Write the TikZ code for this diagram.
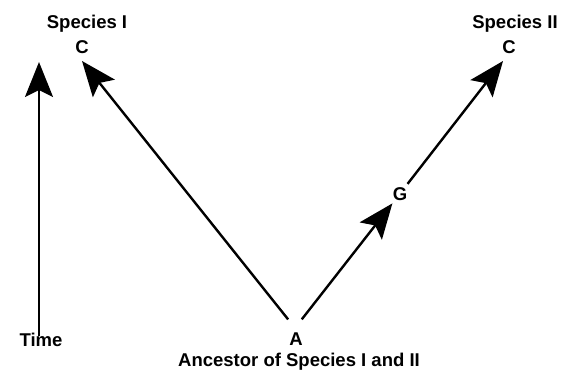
\documentclass[tikz,border=0pt]{standalone}
\usepackage{fontspec}
\setmainfont{Liberation Sans}
\usetikzlibrary{arrows.meta}
\begin{document}
\begin{tikzpicture}[x=1pt,y=-1pt,
  lbl/.style={font=\fontsize{18.5}{20}\selectfont\bfseries, inner sep=0pt, anchor=base},
  arr/.style={line width=2.4pt, -{Stealth[length=35pt,width=28pt,inset=7pt]}}]
  \useasboundingbox (0,0) rectangle (561,372);

  % labels
  \node[lbl] (sp1) at (87,28) {Species I};
  \node[lbl] (c1)  at (82,53) {C};
  \node[lbl] (sp2) at (515,28) {Species II};
  \node[lbl] (c2)  at (509,53) {C};
  \node[lbl, inner sep=3pt] (g) at (400,200) {G};
  \node[lbl] (a)   at (296,345) {A};
  \node[lbl] (anc) at (299,366) {Ancestor of Species I and II};
  \node[lbl] (time) at (41,346) {Time};

  % arrow ends and the fork above the ancestor
  \coordinate (tipL) at (82,61);
  \coordinate (tipR) at (503,61);
  \coordinate (timetip) at (39,62);
  \coordinate (fork) at (295,328);

  % time axis
  \draw[arr] ([yshift=-4pt]timetip |- time.north) -- (timetip);

  % lineages
  \draw[arr, shorten <=11pt] (fork) -- (tipL);
  \draw[arr, shorten <=11pt] (fork) -- (g);
  \draw[arr] (g) -- (tipR);
\end{tikzpicture}
\end{document}
